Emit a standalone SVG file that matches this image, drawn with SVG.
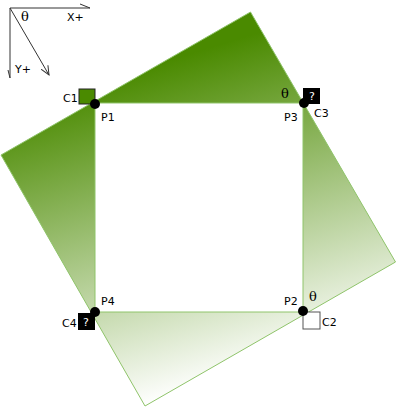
<svg xmlns="http://www.w3.org/2000/svg" width="400" height="413" viewBox="0 0 400 413">
<style>
.lbl{font-family:"DejaVu Sans",sans-serif;font-size:11px;fill:#000}
.th{font-family:"DejaVu Serif","Liberation Serif",serif;font-size:13px;fill:#000}
.q{font-family:"DejaVu Sans",sans-serif;font-size:11px;fill:#fff;text-anchor:middle}
.ax{stroke:#333;stroke-width:1;fill:none}
.dot{fill:#000}
</style>
<defs>
<linearGradient id="g" gradientUnits="userSpaceOnUse" x1="235" y1="40" x2="330" y2="350">
<stop offset="0" stop-color="#4a8a00"/>
<stop offset="1" stop-color="#ffffff"/>
</linearGradient>
<marker id="arr" markerWidth="10" markerHeight="10" refX="9" refY="5" orient="auto" markerUnits="userSpaceOnUse">
<path d="M0,1 L9,5 L0,9" fill="none" stroke="#333" stroke-width="1"/>
</marker>
</defs>
<g id="rotated">
<polygon points="250.5,12 395.5,262 145,406 1,155" fill="url(#g)" stroke="#8fc46a" stroke-width="1"/>
</g>
<g id="inner">
<rect x="95" y="103" width="208" height="209" fill="#fff" stroke="#8fc46a" stroke-width="1"/>
</g>
<g id="axes">
<path class="ax" d="M10,8 H90 L80,4"/>
<path class="ax" d="M10,8 V78 L8,70"/>
<line class="ax" x1="10" y1="8" x2="49" y2="75" marker-end="url(#arr)"/>
<text class="th" x="21" y="21">θ</text>
<text class="lbl" x="67" y="21">X+</text>
<text class="lbl" x="15" y="73">Y+</text>
</g>
<g id="C1">
<rect x="79" y="89" width="16" height="15" fill="#4a8a00" stroke="#222" stroke-width="1"/>
<text class="lbl" x="63" y="102">C1</text>
</g>
<g id="P1">
<circle class="dot" cx="95" cy="104" r="5"/>
<text class="lbl" x="101" y="121">P1</text>
</g>
<g id="C3">
<rect x="303" y="88" width="17" height="16" fill="#000"/>
<text class="q" x="312" y="100">?</text>
<text class="lbl" x="314" y="117">C3</text>
<text class="th" x="281" y="98">θ</text>
</g>
<g id="P3">
<circle class="dot" cx="304" cy="103" r="5"/>
<text class="lbl" x="284" y="121">P3</text>
</g>
<g id="C4">
<rect x="78" y="313" width="17" height="17" fill="#000"/>
<text class="q" x="86" y="326">?</text>
<text class="lbl" x="62" y="327">C4</text>
</g>
<g id="P4">
<circle class="dot" cx="95" cy="312" r="5"/>
<text class="lbl" x="101" y="305">P4</text>
</g>
<g id="C2">
<rect x="303" y="312" width="17" height="17" fill="#fff" stroke="#555" stroke-width="1"/>
<text class="lbl" x="322" y="326">C2</text>
<text class="th" x="309" y="301">θ</text>
</g>
<g id="P2">
<circle class="dot" cx="303" cy="311" r="5"/>
<text class="lbl" x="284" y="305">P2</text>
</g>
</svg>
